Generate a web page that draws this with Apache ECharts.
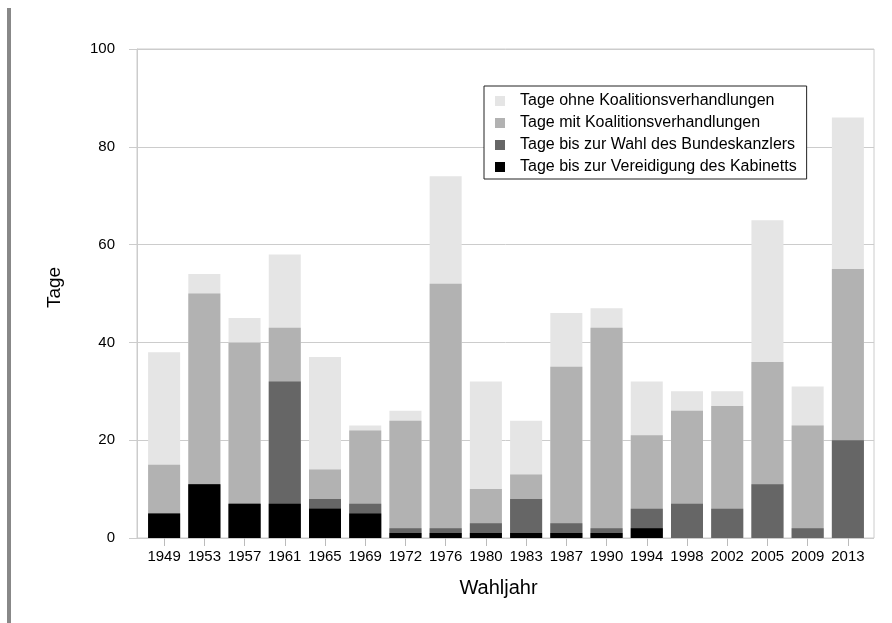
<!DOCTYPE html>
<html>
<head>
<meta charset="utf-8">
<script src="https://cdn.jsdelivr.net/npm/echarts@6/dist/echarts.min.js"></script>
<style>
  html, body { margin: 0; padding: 0; background: #fff; }
  #chart { width: 892px; height: 623px; }
</style>
</head>
<body>
<div id="chart"></div>
<script>
// Wahljahre
var years = ['1949', '1953', '1957', '1961', '1965', '1969', '1972', '1976', '1980',
  '1983', '1987', '1990', '1994', '1998', '2002', '2005', '2009', '2013'];

// Tage bis ... (jede Reihe wird ab 0 gezeichnet, dunklere liegen davor)
var ohneKoal  = [38, 54, 45, 58, 37, 23, 26, 74, 32, 24, 46, 47, 32, 30, 30, 65, 31, 86];
var mitKoal   = [15, 50, 40, 43, 14, 22, 24, 52, 10, 13, 35, 43, 21, 26, 27, 36, 23, 55];
var kanzler   = [5, 11, 7, 32, 8, 7, 2, 2, 3, 8, 3, 2, 6, 7, 6, 11, 2, 20];
var kabinett  = [5, 11, 7, 7, 6, 5, 1, 1, 1, 1, 1, 1, 2, 0, 0, 0, 0, 0];

var yTicks = [0, 20, 40, 60, 80, 100];

var names = [
  'Tage ohne Koalitionsverhandlungen',
  'Tage mit Koalitionsverhandlungen',
  'Tage bis zur Wahl des Bundeskanzlers',
  'Tage bis zur Vereidigung des Kabinetts'
];
var colors = ['#e5e5e5', '#b2b2b2', '#666666', '#000000'];

var font = '"Liberation Sans", Arial, Helvetica, sans-serif';

var chart = echarts.init(document.getElementById('chart'));

function bar(i, data) {
  return {
    name: names[i],
    type: 'bar',
    xAxisIndex: 1,
    yAxisIndex: 1,
    data: data,
    barWidth: 32,
    barGap: '-100%',
    itemStyle: { color: colors[i] },
    emphasis: { disabled: true },
    animation: false
  };
}

chart.setOption({
  backgroundColor: '#fff',
  textStyle: { fontFamily: font },
  graphic: [{
    type: 'rect',
    shape: { x: 7, y: 8, width: 4, height: 615 },
    style: { fill: '#888' }
  }],
  legend: {
    orient: 'vertical',
    left: 484,
    top: 86,
    padding: [7, 10, 4, 11],
    itemGap: 6,
    itemWidth: 10,
    itemHeight: 10,
    icon: 'rect',
    borderColor: '#222',
    borderWidth: 1,
    backgroundColor: '#fff',
    selectedMode: false,
    data: names,
    textStyle: { fontSize: 16, color: '#000', padding: [0, 0, 0, 10], fontFamily: font }
  },
  grid: [
    { left: 137, right: 18, top: 49, bottom: 85, show: true, borderColor: '#cccccc', borderWidth: 1 },
    { left: 144, right: 24, top: 49, bottom: 85 }
  ],
  xAxis: [
    {
      gridIndex: 0, type: 'value', min: 0, max: 1,
      axisLine: { show: false }, axisTick: { show: false },
      axisLabel: { show: false }, splitLine: { show: false }
    },
    {
      gridIndex: 1, type: 'category', data: years,
      name: 'Wahljahr',
      nameLocation: 'middle',
      nameGap: 40,
      nameTextStyle: { fontSize: 20, color: '#000', padding: [0, 15, 0, 0] },
      axisLine: { show: false },
      axisTick: { show: true, alignWithLabel: true, length: 8, lineStyle: { color: '#bbbbbb' } },
      axisLabel: { fontSize: 15, color: '#000', margin: 11, interval: 0 },
      splitLine: { show: false }
    }
  ],
  yAxis: [
    {
      gridIndex: 0, type: 'value', min: 0, max: 100, interval: 20,
      name: 'Tage',
      nameLocation: 'middle',
      nameGap: 73,
      nameTextStyle: { fontSize: 19, color: '#000', padding: [0, 0, 0, 12] },
      axisLine: { show: true, lineStyle: { color: '#cccccc' } },
      axisTick: { show: true, length: 8, lineStyle: { color: '#cccccc' } },
      axisLabel: {
        fontSize: 15, color: '#000', margin: 22,
        formatter: function (v) { return yTicks.indexOf(v) >= 0 ? String(v) : ''; }
      },
      splitLine: { show: true, lineStyle: { color: '#cccccc', width: 1 } }
    },
    {
      gridIndex: 1, type: 'value', min: 0, max: 100, interval: 20,
      show: false
    }
  ],
  series: [
    bar(0, ohneKoal),
    bar(1, mitKoal),
    bar(2, kanzler),
    bar(3, kabinett)
  ]
});
</script>
</body>
</html>
